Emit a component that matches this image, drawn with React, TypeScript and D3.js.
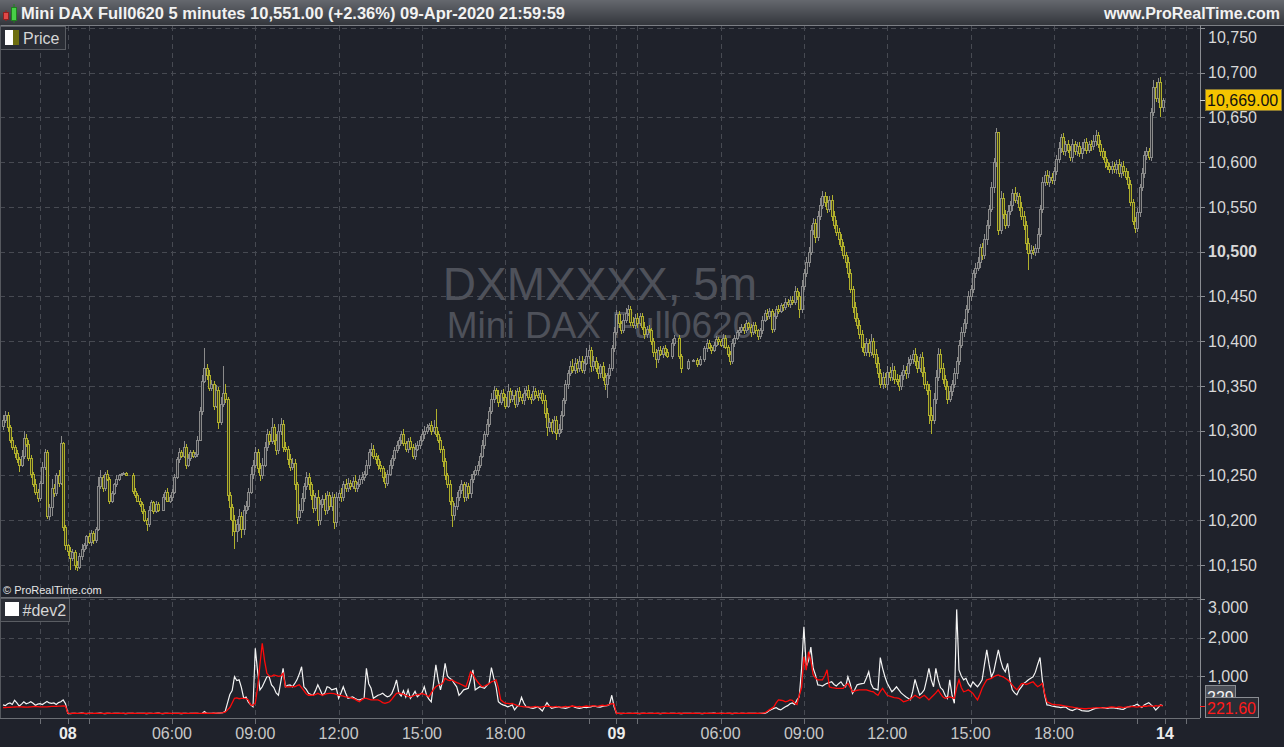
import React, { useEffect } from "react";
import * as d3 from "d3";

// ---------- DATA ----------
const closes: (number | null)[] = [
  10312, 10318, 10304, 10290, 10282, 10275, 10268, 10262, 10272, 10292,
  10285, 10270, 10252, 10240, 10232, 10225, 10242, 10260, 10276, 10205,
  10215, 10236, 10230, 10250, 10242, 10286, 10192, 10172, 10166, 10158,
  10165, 10150, 10148, 10160, 10168, 10172, 10182, 10176, 10186, 10178,
  10190, 10238, 10248, 10236, 10252, 10246, 10222, 10230, 10240, 10246,
  10250, 10252, 10253, 10251, null, null, 10233, 10228, 10222, 10218,
  10210, 10200, 10196, 10212, 10220, 10210, 10218, 10212, null, 10226,
  10232, 10222, 10226, 10232, 10248, 10268, 10276, 10272, 10282, 10262,
  10270, 10276, 10272, 10274, 10290, 10322, 10356, 10370, 10362, 10348,
  10352, 10328, 10345, 10310, 10330, 10342, 10336, 10228, 10215, 10200,
  10188, 10196, 10205, 10190, 10212, 10216, 10232, 10252, 10262, 10276,
  10258, 10250, 10262, 10282, 10296, 10288, 10304, 10290, 10278, 10300,
  10308, 10282, 10280, 10268, 10260, 10264, 10240, 10204, 10212, 10225,
  10238, 10248, 10240, 10228, 10214, 10226, 10200, 10218, 10224, 10212,
  10228, 10216, 10226, 10198, 10226, 10230, 10226, 10240, 10236, 10242,
  10238, 10244, 10236, 10240, 10246, 10248, 10252, 10262, 10276, 10280,
  10272, 10268, 10262, 10258, 10248, 10242, 10252, 10262, 10270, 10278,
  10284, 10290, 10296, 10286, 10280, 10288, 10282, 10272, 10280, 10284,
  10290, 10296, 10300, 10304, 10306, 10300, 10304, 10296, 10290, 10280,
  10266, 10250, 10240, 10222, 10206, 10216, 10226, 10234, 10240, 10226,
  10238, 10230, 10246, 10252, 10256, 10262, 10272, 10284, 10296, 10308,
  10322, 10336, 10345, 10340, 10332, 10342, 10338, 10328, 10344, 10336,
  10340, 10330, 10344, 10338, 10334, 10342, 10346, 10338, 10336, 10344,
  10340, 10338, 10342, 10334, 10320, 10304, 10310, 10300, 10312, 10298,
  10302, 10318, 10334, 10352, 10364, 10372, 10368, 10376, 10370, 10378,
  10368, 10376, 10384, 10390, 10372, 10378, 10370, 10364, 10372, 10360,
  10352, 10362, 10370, 10392, 10410, 10430, 10420, 10412, 10424, 10432,
  10436, 10422, 10418, 10426, 10420, 10428, 10416, 10408, 10414, 10412,
  10400, 10388, 10380, 10390, 10386, 10392, 10388, 10384, null, 10398,
  10404, null, 10384, 10370, null, null, 10378, null, 10379, null,
  10374, 10380, null, 10392, 10398, 10394, 10390, 10396, 10402, 10400,
  10396, 10404, 10394, 10386, 10378, 10398, 10404, 10410, 10412, 10416,
  10412, 10420, 10416, 10410, 10418, 10412, 10406, 10412, 10424, 10432,
  10428, 10434, 10414, 10428, 10436, 10434, 10440, 10438, 10444, 10442,
  10446, 10444, 10456, 10450, 10436, 10462, 10476, 10488, 10500, 10524,
  10532, 10516, 10540, 10552, 10562, 10556, 10548, 10558, 10540, 10530,
  10522, 10514, 10506, 10496, 10488, 10476, 10458, 10438, 10426, 10418,
  10408, 10394, 10388, 10398, 10388, 10400, 10386, 10376, 10364, 10352,
  10360, 10352, 10366, 10360, 10368, 10358, 10356, 10350, 10362, 10368,
  10364, 10376, 10380, 10386, 10378, 10370, 10382, 10366, 10352, 10346,
  10318, 10312, 10336, 10360, 10386, 10370, 10358, 10350, 10336, 10344,
  10352, 10364, 10378, 10396, 10410, 10420, 10436, 10450, 10458, 10476,
  10482, 10488, 10505, 10496, 10514, 10530, 10548, 10572, 10600, 10634,
  10524, 10560, 10542, 10530, 10546, 10552, 10566, 10558, 10562, 10550,
  10540, 10530, 10510, 10498, 10502, 10500, 10504, 10520, 10548, 10578,
  10586, 10578, 10584, 10580, 10590, 10604, 10616, 10628, 10612, 10620,
  10614, 10606, 10620, 10612, 10618, 10610, 10616, 10622, 10614, 10620,
  10618, 10624, 10630, 10620, 10612, 10606, 10600, 10596, 10592, 10596,
  10592, 10598, 10588, 10596, 10590, 10584, 10576, 10556, 10534, 10526,
  10544, 10572, 10588, 10608, 10612, 10606, 10656, 10684, 10672, 10690, 10662, 10669,
];

const wickUp: number[] = [
  6, 4, 3, 2, 3, 2, 4, 3, 6, 8,
  4, 5, 3, 2, 6, 3, 2, 5, 4, 2,
  3, 10, 4, 3, 6, 8, 1, 3, 2, 4,
  3, 2, 4, 3, 5, 3, 2, 4, 3, 2,
  3, 10, 8, 3, 2, 4, 2, 3, 2, 4,
  2, 1, 1, 1, 0, 0, 2, 3, 2, 3,
  2, 3, 2, 4, 3, 2, 3, 2, 0, 3,
  2, 4, 2, 3, 4, 3, 5, 2, 6, 3,
  4, 2, 3, 2, 4, 5, 6, 22, 4, 6,
  5, 3, 6, 4, 8, 30, 10, 2, 4, 3,
  6, 5, 8, 4, 5, 6, 4, 8, 5, 6,
  4, 6, 8, 5, 6, 4, 10, 4, 6, 8,
  6, 4, 5, 3, 6, 5, 4, 3, 6, 5,
  4, 6, 5, 3, 6, 4, 8, 5, 4, 6,
  5, 4, 6, 3, 5, 4, 6, 4, 6, 5,
  3, 4, 6, 3, 4, 6, 3, 5, 4, 6,
  4, 3, 5, 4, 3, 6, 4, 5, 3, 4,
  5, 3, 4, 6, 3, 4, 5, 3, 6, 4,
  4, 6, 5, 4, 3, 5, 8, 20, 4, 3,
  3, 4, 3, 5, 4, 3, 6, 4, 5, 3,
  5, 4, 6, 3, 5, 4, 3, 6, 4, 5,
  4, 6, 5, 3, 6, 4, 5, 3, 8, 4,
  5, 6, 4, 5, 3, 6, 4, 5, 3, 6,
  4, 5, 3, 4, 6, 5, 4, 3, 5, 4,
  6, 4, 3, 5, 4, 6, 8, 5, 4, 6,
  5, 4, 8, 6, 3, 5, 4, 6, 3, 5,
  4, 3, 5, 4, 6, 5, 4, 3, 6, 5,
  4, 3, 5, 4, 6, 3, 4, 5, 3, 4,
  3, 4, 3, 4, 5, 3, 4, 3, 0, 4,
  3, 0, 3, 2, 0, 0, 2, 0, 1, 0,
  2, 3, 0, 3, 4, 3, 2, 3, 4, 3,
  2, 4, 3, 2, 3, 4, 3, 2, 4, 3,
  3, 4, 2, 3, 4, 3, 2, 3, 4, 3,
  4, 3, 2, 4, 3, 4, 3, 2, 4, 3,
  5, 4, 6, 4, 5, 6, 5, 6, 5, 6,
  6, 5, 6, 8, 6, 5, 6, 4, 5, 6,
  5, 4, 6, 5, 4, 6, 5, 4, 6, 5,
  6, 5, 4, 6, 5, 8, 4, 5, 6, 5,
  6, 4, 6, 5, 8, 4, 5, 6, 4, 5,
  4, 6, 5, 4, 6, 5, 4, 6, 5, 4,
  6, 8, 6, 8, 6, 5, 6, 4, 5, 6,
  5, 6, 4, 5, 6, 5, 4, 6, 5, 4,
  5, 6, 4, 5, 6, 5, 4, 6, 5, 4,
  0, 8, 6, 5, 6, 5, 4, 6, 5, 4,
  6, 5, 4, 5, 6, 4, 5, 6, 4, 5,
  4, 5, 6, 4, 5, 4, 6, 4, 5, 4,
  5, 4, 6, 4, 5, 4, 6, 4, 5, 4,
  5, 6, 6, 4, 5, 4, 6, 4, 3, 5,
  4, 5, 6, 4, 5, 4, 6, 4, 3, 5,
  5, 4, 6, 4, 5, 4, 5, 8, 6, 4, 5, 3,
];

const wickDn: number[] = [
  4, 3, 5, 4, 3, 5, 4, 8, 3, 4,
  3, 4, 5, 3, 4, 5, 3, 2, 4, 4,
  5, 10, 4, 3, 5, 3, 4, 5, 6, 14,
  4, 6, 5, 3, 4, 3, 4, 3, 5, 4,
  3, 2, 3, 4, 3, 2, 4, 3, 2, 3,
  2, 1, 1, 1, 0, 0, 4, 3, 2, 3,
  3, 2, 8, 3, 2, 3, 2, 3, 0, 2,
  3, 2, 3, 4, 3, 2, 4, 3, 2, 5,
  3, 4, 3, 2, 3, 2, 4, 3, 5, 4,
  4, 5, 3, 8, 4, 3, 5, 6, 15, 18,
  20, 12, 8, 10, 6, 5, 4, 3, 6, 4,
  5, 6, 4, 3, 5, 4, 3, 6, 5, 4,
  5, 6, 4, 6, 5, 4, 6, 8, 5, 4,
  5, 4, 6, 5, 6, 4, 6, 5, 4, 6,
  5, 4, 6, 8, 5, 4, 6, 5, 4, 5,
  4, 3, 5, 4, 3, 5, 4, 3, 5, 4,
  4, 5, 6, 4, 5, 6, 4, 3, 5, 4,
  3, 4, 5, 3, 4, 5, 3, 4, 5, 3,
  4, 3, 5, 4, 3, 5, 4, 3, 4, 5,
  6, 5, 4, 5, 14, 6, 5, 4, 5, 6,
  4, 6, 5, 4, 3, 5, 4, 3, 4, 3,
  4, 3, 5, 4, 6, 3, 5, 4, 3, 5,
  4, 5, 3, 6, 4, 5, 3, 4, 6, 3,
  4, 5, 3, 4, 6, 10, 5, 4, 3, 8,
  5, 4, 3, 4, 5, 3, 4, 5, 6, 4,
  4, 5, 3, 4, 6, 5, 4, 6, 5, 4,
  6, 15, 4, 3, 4, 3, 5, 4, 3, 4,
  4, 5, 3, 4, 5, 3, 4, 5, 4, 3,
  4, 6, 10, 4, 3, 5, 4, 3, 0, 4,
  3, 0, 4, 6, 0, 0, 2, 0, 1, 0,
  3, 2, 0, 3, 4, 3, 4, 2, 3, 4,
  3, 4, 3, 4, 5, 3, 4, 3, 4, 3,
  4, 3, 4, 5, 3, 4, 5, 3, 4, 3,
  4, 3, 5, 4, 3, 4, 3, 4, 3, 4,
  5, 4, 3, 4, 10, 4, 5, 4, 5, 4,
  5, 6, 4, 5, 4, 6, 5, 4, 6, 5,
  4, 6, 5, 4, 6, 5, 4, 6, 5, 4,
  5, 6, 4, 5, 6, 4, 5, 6, 5, 4,
  5, 4, 6, 5, 4, 6, 5, 6, 4, 5,
  6, 5, 4, 5, 6, 5, 4, 6, 5, 6,
  10, 16, 5, 6, 4, 5, 6, 5, 6, 4,
  5, 4, 6, 5, 4, 5, 6, 4, 5, 4,
  5, 4, 6, 5, 4, 6, 5, 4, 6, 5,
  5, 4, 6, 5, 4, 5, 6, 4, 5, 4,
  5, 6, 8, 18, 6, 4, 5, 6, 4, 5,
  5, 4, 6, 4, 5, 4, 5, 6, 4, 5,
  4, 5, 6, 4, 5, 4, 6, 4, 5, 4,
  5, 4, 6, 4, 5, 4, 6, 5, 4, 5,
  4, 5, 4, 6, 5, 4, 6, 5, 4, 5,
  4, 5, 4, 6, 5, 4, 5, 4, 5, 6, 12, 6,
];

const devWhite: number[] = [
  250, 230, 280, 300, 260, 370, 300, 220, 270, 330,
  280, 300, 330, 290, 240, 270, 280, 260, 300, 340,
  300, 290, 300, 260, 310, 330, 380, 280, 30, 25,
  30, 28, 26, 30, 35, 28, 25, 30, 32, 28,
  26, 30, 34, 28, 25, 30, 28, 26, 32, 30,
  28, 26, 30, 25, 28, 32, 30, 26, 28, 30,
  32, 28, 25, 30, 28, 26, 30, 34, 28, 25,
  28, 30, 26, 28, 32, 30, 28, 25, 30, 28,
  26, 30, 28, 32, 30, 26, 28, 75, 30, 28,
  30, 34, 32, 36, 40, 50, 80, 300, 520, 620,
  980, 880, 900, 700, 420, 450, 320, 250, 200, 1720,
  1100, 640, 720, 850, 980, 980, 770, 700, 560, 500,
  850, 1200, 720, 760, 770, 720, 800, 900, 1050, 1240,
  720, 650, 550, 520, 500, 620, 770, 640, 500, 560,
  720, 700, 640, 660, 680, 420, 560, 720, 560, 420,
  440, 460, 420, 390, 380, 400, 420, 1200, 800, 680,
  420, 460, 500, 520, 550, 500, 460, 480, 550, 700,
  900, 560, 480, 620, 450, 640, 420, 500, 600, 460,
  520, 560, 720, 500, 400, 330, 800, 1290, 900, 640,
  900, 1330, 1000, 940, 900, 800, 720, 500, 560, 640,
  660, 680, 900, 1160, 640, 680, 720, 700, 680, 750,
  810, 1220, 950, 720, 330, 280, 250, 230, 200, 220,
  250, 120, 200, 250, 445, 300, 200, 190, 170, 160,
  180, 200, 150, 90, 200, 307, 220, 160, 180, 190,
  200, 180, 170, 160, 180, 200, 220, 190, 170, 160,
  170, 190, 180, 190, 200, 220, 210, 200, 190, 210,
  220, 230, 260, 500, 200, 30, 28, 25, 30, 26,
  28, 30, 26, 32, 28, 25, 30, 28, 26, 30,
  32, 28, 26, 30, 25, 28, 30, 26, 28, 32,
  30, 26, 28, 25, 30, 28, 32, 30, 26, 28,
  30, 28, 25, 30, 26, 28, 30, 34, 28, 26,
  28, 30, 26, 32, 28, 25, 30, 28, 26, 30,
  28, 26, 30, 32, 28, 30, 26, 28, 30, 30,
  50, 100, 130, 160, 180, 140, 120, 160, 200, 230,
  280, 300, 260, 380, 460, 1200, 2280, 1240, 1400, 1750,
  1200, 1030, 770, 760, 740, 780, 810, 830, 850, 780,
  740, 800, 850, 760, 720, 980, 800, 550, 650, 770,
  790, 800, 810, 950, 1110, 800, 680, 660, 640, 1480,
  1200, 980, 810, 700, 590, 650, 720, 640, 560, 510,
  460, 420, 380, 600, 910, 700, 510, 560, 640, 900,
  1200, 900, 720, 1200, 900, 700, 640, 500, 420, 900,
  500, 290, 2730, 1160, 1000, 900, 940, 800, 720, 850,
  780, 720, 800, 900, 1300, 1680, 1300, 980, 1110, 1400,
  1680, 1400, 1200, 1110, 1330, 900, 640, 560, 510, 640,
  720, 810, 850, 900, 940, 980, 1100, 1300, 1480, 900,
  500, 250, 240, 220, 210, 200, 190, 180, 190, 200,
  150, 120, 100, 130, 160, 130, 100, 95, 90, 90,
  110, 140, 160, 170, 175, 180, 170, 160, 170, 180,
  170, 160, 150, 140, 135, 170, 200, 210, 220, 240,
  265, 220, 180, 250, 280, 307, 250, 200, 117, 180, 250, 229,
];

const devRed: number[] = [
  180, 182, 185, 188, 190, 195, 198, 200, 198, 195,
  192, 195, 200, 205, 208, 205, 200, 198, 196, 200,
  205, 210, 212, 210, 215, 220, 225, 220, 35, 30,
  30, 32, 30, 28, 30, 32, 30, 30, 28, 30,
  32, 30, 30, 28, 30, 32, 30, 28, 30, 30,
  30, 32, 30, 30, 28, 30, 32, 30, 30, 28,
  30, 30, 32, 30, 28, 30, 30, 32, 30, 30,
  28, 30, 32, 30, 30, 28, 30, 32, 30, 30,
  30, 28, 30, 32, 30, 30, 28, 34, 32, 30,
  30, 32, 34, 36, 40, 48, 60, 120, 180, 300,
  420, 430, 410, 420, 420, 410, 380, 250, 240, 300,
  700, 1300, 1850, 1400, 1070, 1000, 990, 1030, 1010, 990,
  1000, 1070, 720, 720, 720, 730, 720, 750, 770, 700,
  620, 540, 500, 500, 500, 520, 550, 520, 500, 520,
  540, 550, 550, 540, 520, 500, 490, 480, 460, 450,
  440, 420, 400, 360, 330, 380, 420, 420, 400, 380,
  380, 380, 380, 350, 310, 290, 310, 330, 400, 480,
  550, 560, 540, 520, 500, 470, 460, 480, 500, 520,
  520, 550, 520, 500, 460, 560, 650, 720, 760, 780,
  810, 940, 900, 880, 900, 860, 830, 810, 780, 750,
  720, 900, 1110, 1050, 940, 850, 780, 720, 740, 770,
  800, 850, 870, 900, 700, 380, 330, 290, 290, 280,
  290, 260, 240, 220, 210, 200, 200, 200, 190, 200,
  210, 200, 190, 200, 210, 220, 210, 200, 200, 210,
  200, 190, 200, 210, 200, 210, 220, 210, 200, 210,
  200, 210, 220, 210, 220, 230, 220, 210, 230, 240,
  230, 240, 260, 280, 270, 30, 30, 32, 30, 28,
  30, 30, 32, 30, 28, 30, 30, 32, 30, 30,
  28, 30, 32, 30, 30, 28, 30, 32, 30, 30,
  30, 28, 30, 32, 30, 30, 28, 30, 32, 30,
  30, 30, 28, 30, 32, 30, 30, 28, 30, 32,
  30, 30, 28, 30, 32, 30, 30, 28, 30, 32,
  30, 30, 32, 30, 28, 30, 32, 30, 34, 40,
  80, 120, 160, 200, 300, 380, 370, 360, 330, 350,
  380, 370, 300, 260, 500, 700, 1500, 1150, 1630, 1400,
  1030, 950, 900, 900, 900, 1000, 1160, 720, 700, 690,
  680, 680, 680, 680, 750, 810, 700, 590, 610, 630,
  640, 640, 640, 640, 620, 600, 590, 540, 500, 600,
  680, 590, 500, 480, 460, 440, 430, 420, 380, 330,
  350, 370, 400, 450, 500, 460, 420, 460, 500, 440,
  380, 440, 500, 560, 640, 540, 460, 420, 440, 460,
  440, 420, 700, 900, 700, 590, 610, 640, 600, 550,
  460, 380, 520, 680, 800, 900, 920, 940, 980, 1010,
  1030, 1000, 980, 940, 900, 840, 770, 700, 640, 720,
  800, 810, 780, 800, 830, 850, 780, 720, 760, 810,
  550, 330, 300, 270, 260, 250, 250, 240, 230, 220,
  210, 200, 190, 180, 170, 160, 160, 150, 150, 160,
  160, 170, 170, 180, 180, 170, 170, 180, 190, 200,
  190, 180, 200, 190, 180, 190, 200, 200, 210, 200,
  190, 210, 200, 220, 210, 230, 220, 210, 230, 220, 240, 221.6,
];

const firstOpen = 10305;
const priceTicks = [10150, 10200, 10250, 10300, 10350, 10400, 10450, 10500, 10550, 10600, 10650, 10700, 10750];
const boldPriceTick = 10500;
const devTicks = [1000, 2000, 3000];
const gridBars = [16, 28, 37, 73, 109, 145, 181, 217, 253, 265, 274, 310, 346, 382, 418, 454, 490, 502, 511];
const labelBars = [28, 73, 109, 145, 181, 217, 265, 310, 346, 382, 418, 454, 502];
const labelTexts = ["08", "06:00", "09:00", "12:00", "15:00", "18:00", "09", "06:00", "09:00", "12:00", "15:00", "18:00", "14"];
const boldLabels = ["08", "09", "14"];
const lastPrice = 10669;

const headerText = "Mini DAX Full0620 5 minutes 10,551.00 (+2.36%) 09-Apr-2020 21:59:59";

// ---------- COMPONENT ----------
const FONT = "'Liberation Sans', Arial, Helvetica, sans-serif";
const BG = "#1f222b";
const GRID = "#474a52";
const UP = "#8a8a8a";
const DOWN = "#b0b02c";
const UP_FILL = "#2f3137";
const DOWN_FILL = "#3b3b22";

export default function App() {
  useEffect(() => {
    document.body.style.margin = "0";
    document.body.style.background = BG;
    document.body.style.overflow = "hidden";
  }, []);

  const W = 1284;
  const H = 747;
  const plotR = 1200;
  const priceTop = 25;
  const priceBot = 597;
  const devBot = 718;

  const x = d3.scaleLinear().domain([0, 501]).range([3, 1162.7]);
  const y = d3.scaleLinear().domain([10150, 10500]).range([565, 251.7]);
  const yd = d3.scaleLinear().domain([0, 3000]).range([714.5, 599]);

  const fmt = d3.format(",");

  const candles: { i: number; o: number; c: number; h: number; l: number }[] = [];
  let prev = firstOpen;
  closes.forEach((c, i) => {
    if (c === null) return;
    const o = prev;
    const h = Math.max(o, c) + (wickUp[i] || 0);
    const l = Math.min(o, c) - (wickDn[i] || 0);
    candles.push({ i, o, c, h, l });
    prev = c;
  });

  const devLine = d3
    .line<number>()
    .x((_, i) => x(i))
    .y((d) => yd(d));

  const pTag = y(lastPrice);

  return (
    <div style={{ position: "absolute", left: 0, top: 0, width: W, height: H }}>
      <svg width={W} height={H} style={{ display: "block", background: BG }} fontFamily={FONT}>
        <defs>
          <linearGradient id="hdr" x1="0" y1="0" x2="0" y2="1">
            <stop offset="0" stopColor="#65686e" />
            <stop offset="1" stopColor="#33363c" />
          </linearGradient>
          <clipPath id="priceClip">
            <rect x={0} y={priceTop + 1} width={plotR} height={priceBot - priceTop - 1} />
          </clipPath>
          <clipPath id="devClip">
            <rect x={0} y={priceBot + 1} width={plotR} height={devBot - priceBot - 1} />
          </clipPath>
        </defs>

        <rect x={0} y={0} width={W} height={H} fill={BG} />

        {/* header */}
        <rect x={0} y={0} width={W} height={25} fill="url(#hdr)" />
        <line x1={0} x2={W} y1={25.5} y2={25.5} stroke="#7c7f85" />
        <line x1={6} x2={6} y1={10} y2={21} stroke="#a02020" />
        <rect x={3.5} y={12.5} width={5} height={7} fill="#e04848" stroke="#902020" />
        <line x1={14} x2={14} y1={4} y2={23} stroke="#208020" />
        <rect x={11.5} y={7.5} width={5} height={13} fill="#48d048" stroke="#208020" />
        <text x={21} y={19} fontSize={16} fontWeight="bold" fill="#f2f2f2" textLength={544} lengthAdjust="spacingAndGlyphs">
          {headerText}
        </text>
        <text x={1280} y={19} fontSize={16} fontWeight="bold" fill="#f2f2f2" textAnchor="end">
          www.ProRealTime.com
        </text>

        {/* grids */}
        {priceTicks.map((t) => (
          <line key={"pg" + t} x1={0} x2={plotR} y1={Math.round(y(t)) + 0.5} y2={Math.round(y(t)) + 0.5}
            stroke={GRID} strokeDasharray="5,4" />
        ))}
        {devTicks.map((t) => (
          <line key={"dg" + t} x1={0} x2={plotR} y1={Math.round(yd(t)) + 0.5} y2={Math.round(yd(t)) + 0.5}
            stroke={GRID} strokeDasharray="5,4" />
        ))}
        {gridBars.map((b) => (
          <line key={"vg" + b} x1={Math.round(x(b)) + 0.5} x2={Math.round(x(b)) + 0.5} y1={priceTop + 1} y2={devBot}
            stroke={GRID} strokeDasharray="5,4" />
        ))}

        {/* watermark */}
        <text x={600} y={300} fontSize={46} fill="#4e515a" textAnchor="middle">DXMXXXX, 5m</text>
        <text x={600} y={338} fontSize={37} fill="#4e515a" textAnchor="middle">Mini DAX Full0620</text>

        {/* candles */}
        <g clipPath="url(#priceClip)">
          {candles.map((k) => {
            const cx = Math.round(x(k.i));
            const up = k.c >= k.o;
            const col = up ? UP : DOWN;
            const top = Math.round(y(Math.max(k.o, k.c)));
            const bot = Math.round(y(Math.min(k.o, k.c)));
            return (
              <g key={"c" + k.i}>
                <line x1={cx + 0.5} x2={cx + 0.5} y1={Math.round(y(k.h))} y2={Math.round(y(k.l))} stroke={col} />
                <rect x={cx - 0.5} y={top + 0.5} width={2} height={Math.max(bot - top, 0.5)}
                  fill={up ? UP_FILL : DOWN_FILL} stroke={col} />
              </g>
            );
          })}
        </g>

        {/* indicator lines */}
        <g clipPath="url(#devClip)">
          <path d={devLine(devWhite) || ""} fill="none" stroke="#f4f4f4" strokeWidth={1.2} />
          <path d={devLine(devRed) || ""} fill="none" stroke="#ff0a0a" strokeWidth={1.3} />
        </g>

        {/* panel borders */}
        <line x1={0} x2={plotR} y1={priceBot + 0.5} y2={priceBot + 0.5} stroke="#6c6f75" />
        <line x1={0} x2={plotR} y1={devBot + 0.5} y2={devBot + 0.5} stroke="#6c6f75" />
        <line x1={0.5} x2={0.5} y1={priceTop} y2={devBot} stroke="#55585e" />
        <line x1={plotR + 0.5} x2={plotR + 0.5} y1={priceTop} y2={devBot} stroke="#8a8d92" />

        {/* legends */}
        <rect x={0.5} y={26.5} width={65} height={23} fill="#2a2d35" stroke="#5a5d63" />
        <rect x={5} y={30} width={8} height={15} fill="#ffffff" />
        <rect x={13} y={30} width={6} height={15} fill="#6e6e10" />
        <text x={23} y={44} fontSize={16} fill="#d6d6d6">Price</text>

        <rect x={0.5} y={598.5} width={69} height={23} fill="#2a2d35" stroke="#5a5d63" />
        <rect x={5} y={602} width={14} height={14} fill="#ffffff" />
        <text x={22.5} y={616} fontSize={16} fill="#d6d6d6">#dev2</text>

        <text x={3} y={594} fontSize={11} fill="#e6e6e6">© ProRealTime.com</text>

        {/* price axis */}
        {priceTicks.map((t) => {
          const yy = y(t);
          const ly = Math.max(yy, 37);
          return (
            <g key={"pt" + t}>
              <line x1={plotR} x2={plotR + 5} y1={Math.round(yy) + 0.5} y2={Math.round(yy) + 0.5} stroke="#8a8d92" />
              <text x={1208} y={ly} dy="0.36em" fontSize={16} fill="#d8d8d8"
                fontWeight={t === boldPriceTick ? "bold" : "normal"}>
                {fmt(t)}
              </text>
            </g>
          );
        })}
        {devTicks.map((t) => {
          const yy = yd(t);
          const ly = Math.max(yy, 607);
          return (
            <g key={"dt" + t}>
              <line x1={plotR} x2={plotR + 5} y1={Math.round(yy) + 0.5} y2={Math.round(yy) + 0.5} stroke="#8a8d92" />
              <text x={1208} y={ly} dy="0.36em" fontSize={16} fill="#d8d8d8">{fmt(t)}</text>
            </g>
          );
        })}

        {/* last price tag */}
        <line x1={plotR} x2={plotR + 5} y1={Math.round(pTag) + 0.5} y2={Math.round(pTag) + 0.5} stroke="#d0d0d0" />
        <rect x={1205.5} y={Math.round(pTag) - 10.5} width={76} height={21} fill="#f5c400" stroke="#8c7a30" />
        <text x={1207} y={pTag} dy="0.36em" fontSize={16} fill="#111111">{d3.format(",.2f")(lastPrice)}</text>

        {/* dev value tags (the red one overlaps the white one, as in the source) */}
        <rect x={1205.5} y={685.5} width={30} height={22} fill="#4c4f57" stroke="#8a8d92" />
        <text x={1207} y={697} dy="0.36em" fontSize={16} fill="#f4f4f4">
          {Math.round(devWhite[devWhite.length - 1])}
        </text>
        <line x1={plotR} x2={plotR + 5} y1={Math.round(yd(devRed[devRed.length - 1])) + 0.5}
          y2={Math.round(yd(devRed[devRed.length - 1])) + 0.5} stroke="#ff2020" />
        <rect x={1205.5} y={697.5} width={53} height={20} fill="#2a2d35" stroke="#8a8d92" />
        <text x={1207} y={708} dy="0.36em" fontSize={16} fill="#ff1a1a">
          {d3.format(".2f")(devRed[devRed.length - 1])}
        </text>

        {/* time axis */}
        {gridBars.map((b) => (
          <line key={"tt" + b} x1={Math.round(x(b)) + 0.5} x2={Math.round(x(b)) + 0.5} y1={devBot + 1} y2={devBot + 6}
            stroke="#6c6f75" />
        ))}
        {labelBars.map((b, k) => {
          const bold = boldLabels.includes(labelTexts[k]);
          return (
            <text key={"tl" + b} x={x(b)} y={733} dy="0.36em" fontSize={16} textAnchor="middle"
              fill={bold ? "#ececec" : "#c8c8c8"} fontWeight={bold ? "bold" : "normal"}>
              {labelTexts[k]}
            </text>
          );
        })}
      </svg>
    </div>
  );
}
